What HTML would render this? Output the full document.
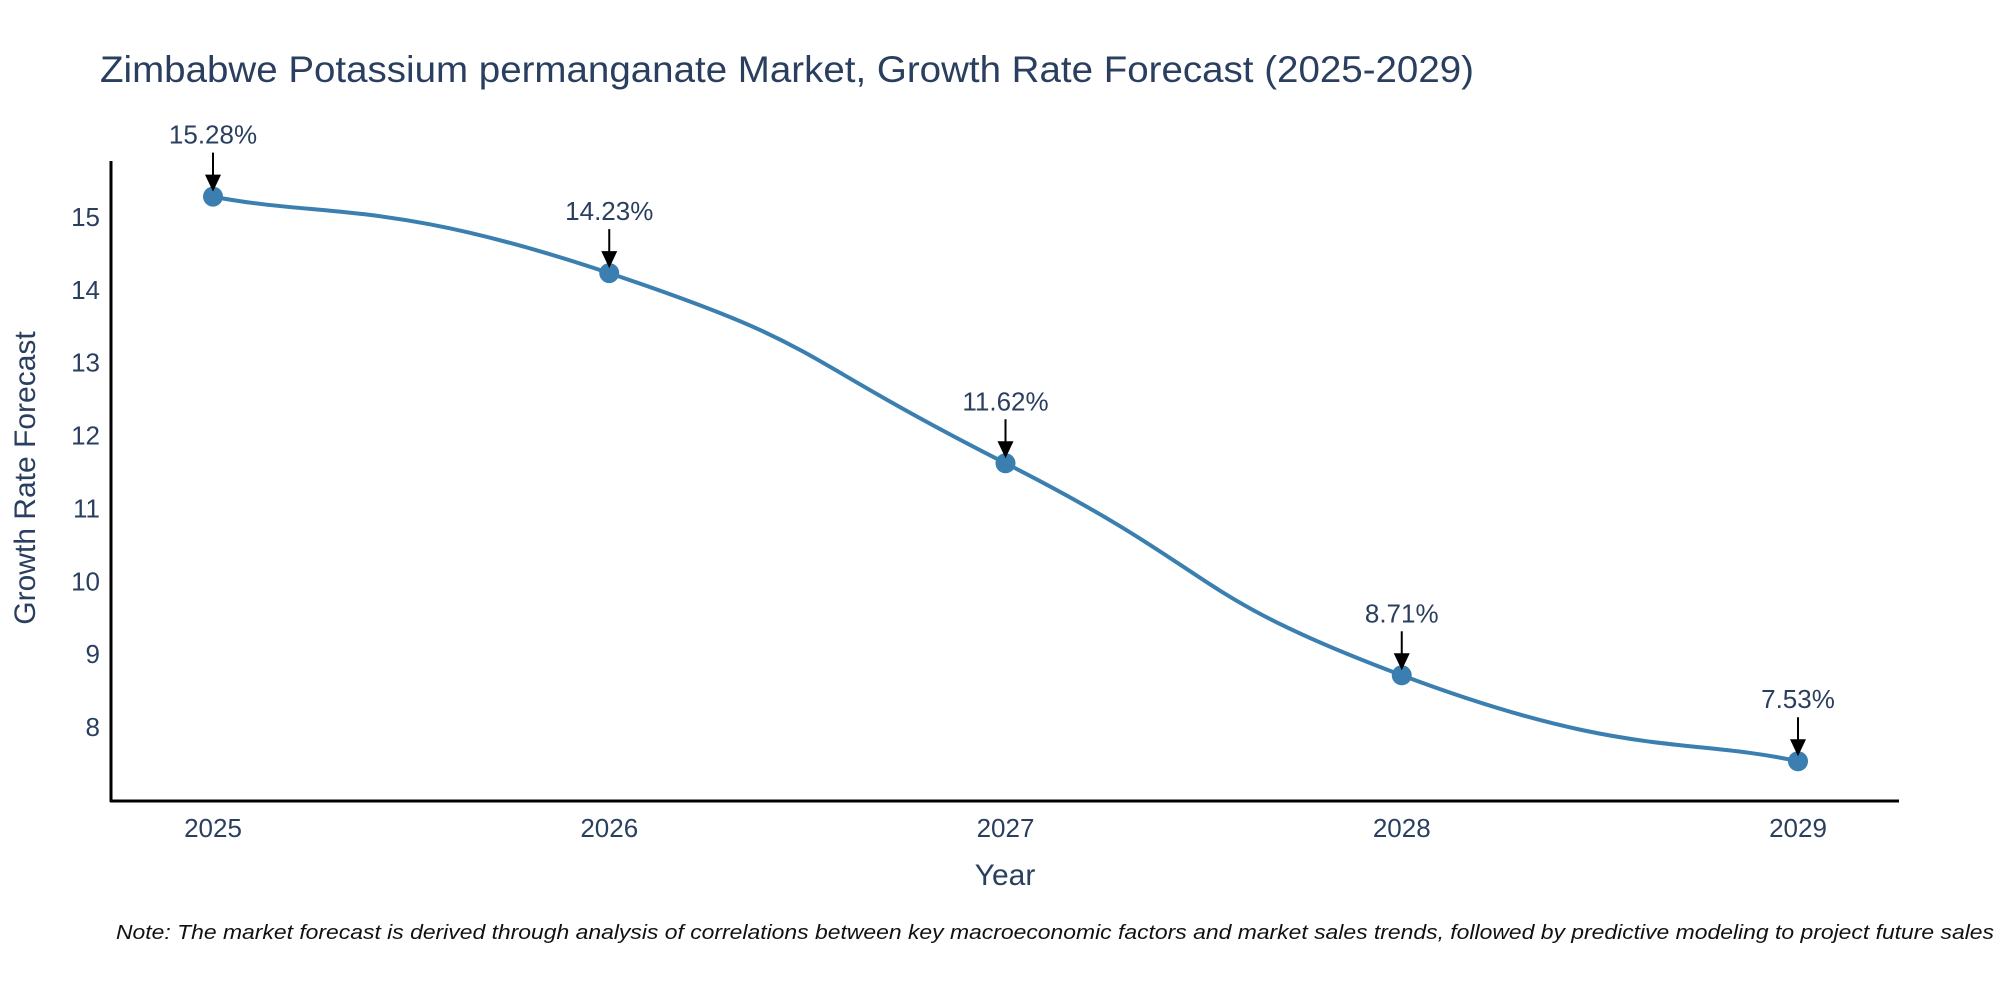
<!DOCTYPE html>
<html><head><meta charset="utf-8"><style>
html,body{margin:0;padding:0;background:#fff;}
svg{display:block;font-family:"Liberation Sans",sans-serif;}
</style></head><body>
<svg id="chart" width="2000" height="1000" viewBox="0 0 2000 1000">
<text x="100" y="82" font-size="37" fill="#2a3f5f" textLength="1374" lengthAdjust="spacingAndGlyphs">Zimbabwe Potassium permanganate Market, Growth Rate Forecast (2025-2029)</text>
<g id="yticks"></g>
<g id="xticks"></g>
<line x1="111" y1="161" x2="111" y2="802" stroke="#000" stroke-width="3"/>
<line x1="110" y1="801" x2="1899" y2="801" stroke="#000" stroke-width="3"/>
<path id="line" fill="none" stroke="#3a7fb0" stroke-width="4"/>
<g id="pts"></g>
<g id="ann"></g>
<text x="1005" y="885" font-size="30" fill="#2a3f5f" text-anchor="middle">Year</text>
<text x="0" y="0" font-size="30" fill="#2a3f5f" text-anchor="middle" transform="translate(35,478) rotate(-90)">Growth Rate Forecast</text>
<text x="116" y="939" font-size="20" font-style="italic" fill="#111" textLength="1878" lengthAdjust="spacingAndGlyphs">Note: The market forecast is derived through analysis of correlations between key macroeconomic factors and market sales trends, followed by predictive modeling to project future sales</text>
</svg>
<script>
const years = ["2025","2026","2027","2028","2029"];
const values = [15.28, 14.23, 11.62, 8.71, 7.53];
const yTicks = [8,9,10,11,12,13,14,15];
const NS="http://www.w3.org/2000/svg";
function xPos(i){return 213 + i*(1798-213)/(years.length-1);}
function yPos(v){return 217 - (v-15)*(727-217)/7;}
function mk(tag,attrs,parent){const e=document.createElementNS(NS,tag);for(const k in attrs)e.setAttribute(k,attrs[k]);parent.appendChild(e);return e;}
const yt=document.getElementById('yticks');
yTicks.forEach(t=>{
  const e=mk('text',{x:100,y:yPos(t)+9,'font-size':26,fill:'#2a3f5f','text-anchor':'end'},yt);
  
  
  e.textContent=t;
});
const xt=document.getElementById('xticks');
years.forEach((y,i)=>{
  const e=mk('text',{x:xPos(i),y:837,'font-size':26,fill:'#2a3f5f','text-anchor':'middle'},xt);
  
  
  e.textContent=y;
});
const P=values.map((v,i)=>[xPos(i),yPos(v)]);
let d='M'+P[0][0]+','+P[0][1];
const s=0.28;
for(let i=0;i<P.length-1;i++){
  const p0=P[Math.max(i-1,0)],p1=P[i],p2=P[i+1],p3=P[Math.min(i+2,P.length-1)];
  const c1=[p1[0]+(p2[0]-p0[0])*s,p1[1]+(p2[1]-p0[1])*s];
  const c2=[p2[0]-(p3[0]-p1[0])*s,p2[1]-(p3[1]-p1[1])*s];
  d+=' C'+c1.join(',')+' '+c2.join(',')+' '+p2.join(',');
}
document.getElementById('line').setAttribute('d',d);
const pts=document.getElementById('pts'),ann=document.getElementById('ann');
values.forEach((v,i)=>{
  const x=xPos(i),y=yPos(v);
  const c=mk('circle',{cx:x,cy:y,r:10,fill:'#3a7fb0'},pts);
  
  
  const l=mk('line',{x1:x,y1:y-44,x2:x,y2:y-20,stroke:'#000','stroke-width':2},ann);
  
  
  const a=mk('polygon',{points:(x-8)+','+(y-22)+' '+(x+8)+','+(y-22)+' '+x+','+(y-5),fill:'#000'},ann);
  
  
  const t=mk('text',{x:x,y:y-53,'font-size':26,fill:'#2a3f5f','text-anchor':'middle'},ann);
  
  
  t.textContent=v.toFixed(2)+'%';
});
</script>
</body></html>
